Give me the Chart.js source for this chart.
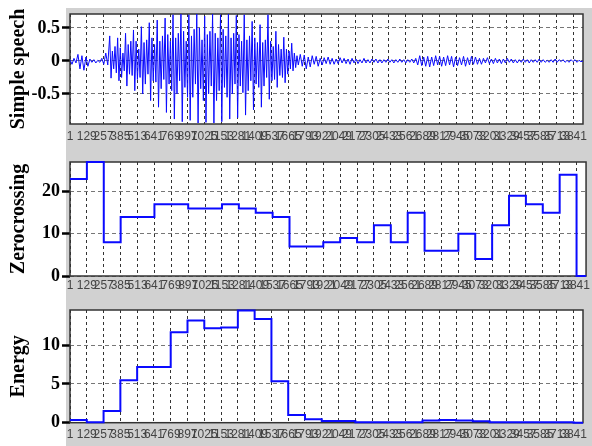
<!DOCTYPE html>
<html>
<head>
<meta charset="utf-8">
<script src="https://cdn.jsdelivr.net/npm/chart.js@4/dist/chart.umd.min.js"></script>
<style>
	html, body { margin: 0; padding: 0; background: #fff; }
	#page { position: relative; width: 592px; height: 446px; overflow: hidden; }
	#figure { position: absolute; left: 66px; top: 8px; width: 526px; height: 438px; background: #d1d1d1; }
	canvas { position: absolute; left: 0; }
</style>
</head>
<body>
<div id="page">
	<div id="figure"></div>
	<canvas id="speech" width="592" height="150" style="top:0px"></canvas>
	<canvas id="zero" width="592" height="150" style="top:148px"></canvas>
	<canvas id="energy" width="592" height="150" style="top:296px"></canvas>
</div>
<script>
// Frame boundaries (128 samples per frame), also used as x tick labels
const sampleTicks = [1, 129, 257, 385, 513, 641, 769, 897, 1025, 1153, 1281, 1409, 1537, 1665, 1793, 1921,
	2049, 2177, 2305, 2433, 2561, 2689, 2817, 2945, 3073, 3201, 3329, 3457, 3585, 3713, 3841];
const signalEnd = 3913;

const speechTicks = [-0.5, 0, 0.5];
const zeroTicks = [0, 10, 20];
const energyTicks = [0, 5, 10];

// Per frame values
const zeroCrossing = [23, 27, 8, 14, 14, 17, 17, 16, 16, 17, 16, 15, 14, 7, 7, 8, 9, 8, 12, 8, 15, 6, 6, 10, 4, 12, 19, 17, 15, 24, 0];
const energy = [0.35, 0.05, 1.5, 5.5, 7.2, 7.2, 11.7, 13.2, 12.2, 12.3, 14.5, 13.4, 5.35, 1.0, 0.44, 0.22, 0.22,
	0.05, 0.05, 0.05, 0.05, 0.3, 0.35, 0.3, 0.2, 0.05, 0.05, 0.05, 0.05, 0.05, 0.0];

// Speech waveform in three pieces
// (each piece is spread evenly between its first and last sample number)
const onsetRange = [1, 289];
const speechOnset = [
	0.02, -0.05, 0.04, -0.03,
	0.10, -0.12, 0.08, -0.14, 0.06, -0.08,
	0.03, -0.02, 0.02, -0.03, 0.01, -0.02,
	0.04, -0.05, 0.12, -0.06
];
const voicedRange = [304, 1742];
const speechVoiced = [
	0.38, -0.26, 0.15, -0.12, 0.22, -0.18,
	0.35, -0.30, 0.20, -0.25, 0.12, -0.15,
	0.42, -0.38, 0.25, -0.20, 0.30, -0.22,
	0.47, -0.45, 0.30, -0.28, 0.18, -0.25,
	0.52, -0.50, 0.28, -0.35, 0.32, -0.20,
	0.58, -0.60, 0.35, -0.30, 0.25, -0.32,
	0.62, -0.70, 0.30, -0.42, 0.38, -0.28,
	0.65, -0.78, 0.40, -0.35, 0.30, -0.45,
	0.70, -0.88, 0.35, -0.50, 0.42, -0.30,
	0.71, -0.92, 0.45, -0.40, 0.30, -0.55,
	0.70, -0.90, 0.38, -0.55, 0.48, -0.35,
	0.71, -0.94, 0.50, -0.42, 0.32, -0.60,
	0.68, -0.93, 0.40, -0.50, 0.45, -0.38,
	0.71, -0.94, 0.42, -0.60, 0.35, -0.45,
	0.70, -0.92, 0.48, -0.40, 0.38, -0.55,
	0.71, -0.88, 0.35, -0.50, 0.42, -0.35,
	0.69, -0.86, 0.40, -0.38, 0.30, -0.48,
	0.70, -0.82, 0.32, -0.45, 0.38, -0.30,
	0.60, -0.74, 0.35, -0.35, 0.28, -0.40,
	0.55, -0.70, 0.28, -0.38, 0.32, -0.25,
	0.70, -0.58, 0.30, -0.30, 0.22, -0.28,
	0.45, -0.40, 0.25, -0.22, 0.18, -0.25,
	0.36, -0.33, 0.18, -0.20, 0.15, -0.12,
	0.27, -0.15, 0.12, -0.10, 0.08, -0.06
];
const tailRange = [1757, 3913];
const speechTail = [
	0.10, -0.08, 0.09, -0.12, 0.06, -0.09, 0.08, -0.05, 0.07, -0.08, 0.04, -0.06, 0.05, -0.04, 0.06,
	-0.05, 0.04, -0.05, 0.03, -0.04, 0.05, -0.03, 0.04, -0.04, 0.03, -0.05, 0.04, -0.03, 0.03, -0.04,
	0.02, -0.03, 0.04, -0.03, 0.02, -0.03, 0.03, -0.02, 0.03, -0.03,
	0.02, -0.03, 0.02, -0.02, 0.03, -0.02, 0.02, -0.03, 0.02, -0.02, 0.03, -0.02, 0.02, -0.03, 0.02,
	-0.02, 0.03, -0.03, 0.04,
	-0.06, 0.08, -0.07, 0.06, -0.08, 0.07, -0.09, 0.06, -0.07, 0.08, -0.06, 0.07, -0.08, 0.06, -0.07,
	0.08, -0.06, 0.07, -0.09, 0.06, -0.07, 0.05, -0.06, 0.07, -0.08, 0.05, -0.06, 0.07, -0.05, 0.06, -0.05,
	0.04, -0.05, 0.04, -0.03, 0.05, -0.04, 0.03, -0.04, 0.04, -0.03, 0.03, -0.04, 0.03, -0.03, 0.04,
	-0.02, 0.03, -0.03, 0.02, -0.03,
	0.02, -0.02, 0.03, -0.02, 0.02, -0.03, 0.02, -0.02, 0.02, -0.02, 0.03, -0.02, 0.02, -0.02, 0.01,
	-0.02, 0.02, -0.02, 0.03, -0.02, 0.02, -0.01, 0.02, -0.02, 0.01, -0.02, 0.02, -0.01, 0.02, -0.02,
	0.01, -0.01, 0.0
];

Chart.defaults.font.family = 'Liberation Sans';
Chart.defaults.animation = false;

// White plot box with dark frame, like the matlab axes
// (frame goes under the data so the stairs stay visible on the edges)
const plotFrame = {
	id: 'plotFrame',
	beforeDraw(chart) {
		const { ctx, chartArea: a } = chart;
		ctx.save();
		ctx.fillStyle = '#fff';
		ctx.fillRect(a.left, a.top, a.right - a.left, a.bottom - a.top);
		ctx.restore();
	},
	beforeDatasetsDraw(chart) {
		const { ctx, chartArea: a } = chart;
		ctx.save();
		ctx.strokeStyle = '#333';
		ctx.lineWidth = 1.5;
		ctx.strokeRect(a.left, a.top, a.right - a.left, a.bottom - a.top);
		ctx.restore();
	}
};

const makeChart = (id, { title, points, stepped, yMin, yMax, yTicks, axisHeight, labelPad }) => {
	return new Chart(document.getElementById(id), {
		type: 'line',
		data: {
			datasets: [{
				data: points,
				borderColor: '#0a0aff',
				borderWidth: stepped ? 2 : 1,
				pointRadius: 0,
				stepped: stepped,
				tension: 0,
				clip: stepped ? false : undefined
			}]
		},
		options: {
			responsive: false,
			layout: { padding: { top: 14, right: 5.3, left: 0, bottom: 0 } },
			plugins: { legend: { display: false }, tooltip: { enabled: false } },
			scales: {
				x: {
					type: 'linear',
					min: 1,
					max: signalEnd,
					afterBuildTicks: (scale) => { scale.ticks = sampleTicks.map(v => ({ value: v })); },
					afterFit: (scale) => { scale.height = axisHeight; },
					ticks: {
						autoSkip: false,
						maxRotation: 0,
						minRotation: 0,
						padding: labelPad,
						color: '#444',
						font: { size: 12 },
						callback: (v) => String(v)
					},
					grid: { color: '#333', lineWidth: 1, drawTicks: false },
					border: { display: false, dash: [3, 3] }
				},
				y: {
					min: yMin,
					max: yMax,
					afterBuildTicks: (scale) => { scale.ticks = yTicks.map(v => ({ value: v })); },
					afterFit: (scale) => { scale.width = 70; },
					ticks: {
						padding: 2,
						color: '#000',
						font: { family: 'Liberation Serif', size: 18, weight: 'bold' },
						callback: (v) => String(v)
					},
					grid: { color: '#777', lineWidth: 1, tickLength: 8, tickWidth: 2.5, tickColor: '#000' },
					border: { display: false, dash: [4, 3] },
					title: {
						display: true,
						text: title,
						color: '#000',
						font: { family: 'Liberation Serif', size: 20, weight: 'bold' },
						padding: { top: 7, bottom: 0 }
					}
				}
			}
		},
		plugins: [plotFrame]
	});
};

// Stairs: each frame value holds until the next frame boundary
const stairs = (values) => {
	const pts = values.map((v, k) => ({ x: sampleTicks[k], y: v }));
	pts.push({ x: signalEnd, y: values[values.length - 1] });
	return pts;
};

// Spread one waveform piece over its sample range
const piece = (values, [s0, s1]) => values.map((v, i) => ({ x: s0 + i * (s1 - s0) / (values.length - 1), y: v }));

const speechPoints = piece(speechOnset, onsetRange).concat(piece(speechVoiced, voicedRange), piece(speechTail, tailRange));

makeChart('speech', { title: 'Simple speech', points: speechPoints, stepped: false,
	yMin: -0.955, yMax: 0.712, yTicks: speechTicks, axisHeight: 26, labelPad: 5 });
makeChart('zero', { title: 'Zerocrossing', points: stairs(zeroCrossing), stepped: 'before',
	yMin: 0, yMax: 27, yTicks: zeroTicks, axisHeight: 22, labelPad: 2 });
makeChart('energy', { title: 'Energy', points: stairs(energy), stepped: 'before',
	yMin: 0, yMax: 14.56, yTicks: energyTicks, axisHeight: 23.3, labelPad: 5 });
</script>
</body>
</html>
